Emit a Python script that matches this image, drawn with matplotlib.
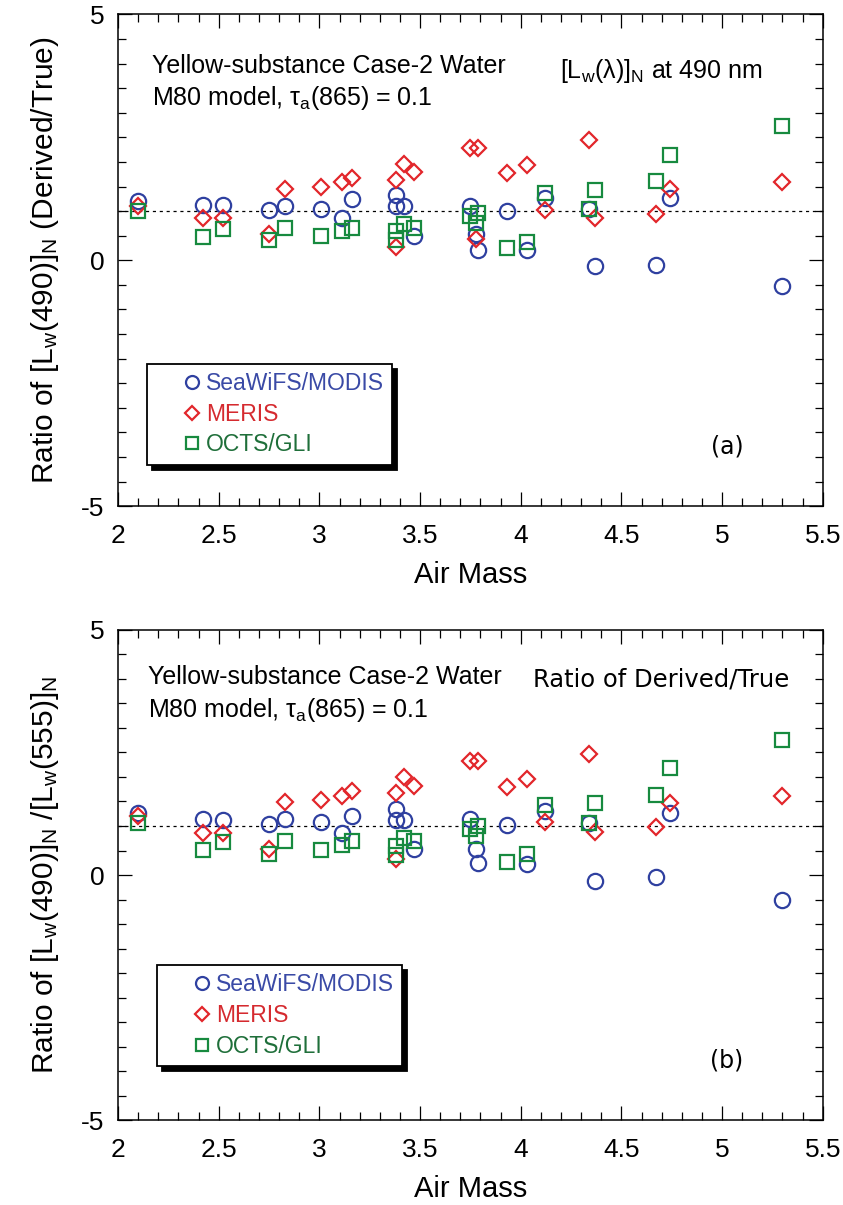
import numpy as np
import matplotlib
matplotlib.use('Agg')
import matplotlib.pyplot as plt
from matplotlib.ticker import MultipleLocator

plt.rcParams['font.family'] = ['Liberation Sans', 'DejaVu Sans']
plt.rcParams['mathtext.fontset'] = 'custom'
plt.rcParams['mathtext.rm'] = 'Liberation Sans'
plt.rcParams['mathtext.it'] = 'Liberation Sans:italic'
plt.rcParams['mathtext.default'] = 'regular'
plt.rcParams['axes.unicode_minus'] = False

# air mass for each simulated case (shared by both panels)
air_mass = [2.10, 2.42, 2.52, 2.75, 2.83, 3.01, 3.11, 3.16, 3.38, 3.38, 3.42, 3.47,
            3.75, 3.78, 3.79, 3.93, 4.03, 4.12, 4.34, 4.37, 4.67, 4.74, 5.30]

# panel (a): [Lw(490)]N derived/true
a_seawifs = [1.20, 1.13, 1.13, 1.03, 1.11, 1.05, 0.85, 1.24, 1.32, 1.10, 1.10, 0.50,
             1.11, 0.54, 0.20, 1.00, 0.20, 1.27, 1.05, -0.12, -0.09, 1.27, -0.53]
a_meris = [1.10, 0.85, 0.85, 0.54, 1.44, 1.49, 1.59, 1.68, 1.64, 0.27, 1.95, 1.79,
           2.29, 0.44, 2.29, 1.77, 1.94, 1.03, 2.44, 0.85, 0.94, 1.44, 1.59]
a_octs = [1.00, 0.48, 0.64, 0.41, 0.66, 0.50, 0.60, 0.66, 0.59, 0.42, 0.73, 0.66,
          0.91, 0.76, 0.96, 0.25, 0.37, 1.37, 1.05, 1.43, 1.61, 2.15, 2.73]

# panel (b): [Lw(490)]N/[Lw(555)]N derived/true
b_seawifs = [1.27, 1.15, 1.13, 1.05, 1.15, 1.08, 0.85, 1.21, 1.34, 1.12, 1.13, 0.54,
             1.15, 0.54, 0.24, 1.03, 0.22, 1.30, 1.07, -0.12, -0.04, 1.27, -0.52]
b_meris = [1.21, 0.86, 0.85, 0.54, 1.48, 1.53, 1.62, 1.71, 1.68, 0.33, 2.00, 1.81,
           2.32, np.nan, 2.32, 1.79, 1.96, 1.09, 2.46, 0.88, 0.98, 1.46, 1.61]
b_octs = [1.07, 0.52, 0.67, 0.42, 0.69, 0.52, 0.62, 0.69, 0.60, 0.40, 0.76, 0.69,
          0.93, 0.79, 1.01, 0.27, 0.42, 1.42, 1.07, 1.47, 1.63, 2.18, 2.76]

sensors = ['SeaWiFS/MODIS', 'MERIS', 'OCTS/GLI']
markers = ['o', 'D', 's']
msizes = [11, 8.3, 10.3]
colors = ['#2f40a0', '#e2262b', '#178a3f']
text_colors = ['#3a4aa6', '#d52a2f', '#1f6f3a']

fig = plt.figure(figsize=(8.43, 12.05), dpi=100)
ax1 = fig.add_axes([0.140, 0.580, 0.836, 0.408])
ax2 = fig.add_axes([0.140, 0.0705, 0.836, 0.4067])

panels = [
    (ax1, [a_seawifs, a_meris, a_octs],
     'Ratio of [L$_w$(490)]$_N$ (Derived/True)', '(a)', (0.041, 0.289)),
    (ax2, [b_seawifs, b_meris, b_octs],
     'Ratio of [L$_w$(490)]$_N$ /[L$_w$(555)]$_N$', '(b)', (0.055, 0.316)),
]

for ax, series, ylab, tag, leg_xy in panels:
    ax.axhline(1.0, color='black', lw=0.9, ls=(0, (2.5, 3)), zorder=1)
    handles = []
    for vals, m, ms, c, name in zip(series, markers, msizes, colors, sensors):
        h, = ax.plot(air_mass, vals, ls='none', marker=m, ms=ms, mfc='none',
                     mec=c, mew=1.6, label=name, zorder=3)
        handles.append(h)

    ax.set_xlim(2, 5.5)
    ax.set_ylim(-5, 5)
    ax.xaxis.set_minor_locator(MultipleLocator(0.1))
    ax.yaxis.set_major_locator(MultipleLocator(5))
    ax.yaxis.set_minor_locator(MultipleLocator(0.5))
    ax.set_xticks([2, 2.5, 3, 3.5, 4, 4.5, 5, 5.5])
    ax.set_xticklabels(['2', '2.5', '3', '3.5', '4', '4.5', '5', '5.5'])
    ax.tick_params(which='both', direction='in', top=True, right=True,
                   labelsize=19, width=0.9)
    ax.tick_params(axis='x', which='major', pad=13)
    ax.tick_params(axis='y', which='major', pad=10)
    ax.tick_params(which='major', length=10)
    ax.tick_params(which='minor', length=6)
    for s in ax.spines.values():
        s.set_linewidth(1.1)

    ax.set_xlabel('Air Mass', fontsize=21, labelpad=9)
    ax.set_ylabel(ylab, fontsize=21.5, labelpad=14)

    leg = ax.legend(handles=handles, loc='upper left', bbox_to_anchor=leg_xy,
                    fontsize=16.5, frameon=True, fancybox=False,
                    shadow={'color': 'black', 'alpha': 1.0, 'ox': 3.5, 'oy': -3.5},
                    borderpad=0.36, handletextpad=-0.98, labelspacing=0.33,
                    borderaxespad=0, handlelength=3.2)
    leg.get_frame().set_edgecolor('black')
    leg.get_frame().set_linewidth(1.3)
    for txt, tc in zip(leg.get_texts(), text_colors):
        txt.set_color(tc)
    for lh in leg.legend_handles:
        lh.set_markersize(lh.get_markersize() * 0.85)

    ax.text(0.864, 0.121, tag, transform=ax.transAxes,
            fontsize=17, family='DejaVu Sans', ha='center', va='center')

# panel annotations
ax1.text(0.048, 0.896, 'Yellow-substance Case-2 Water', transform=ax1.transAxes,
         fontsize=18, va='center')
ax1.text(0.048, 0.831, r'M80 model, $\tau_a$(865) = 0.1', transform=ax1.transAxes,
         fontsize=18, va='center')
ax1.text(0.627, 0.885, r'[L$_w$($\lambda$)]$_N$ at 490 nm', transform=ax1.transAxes,
         fontsize=18, va='center')

ax2.text(0.043, 0.904, 'Yellow-substance Case-2 Water', transform=ax2.transAxes,
         fontsize=18, va='center')
ax2.text(0.043, 0.836, r'M80 model, $\tau_a$(865) = 0.1', transform=ax2.transAxes,
         fontsize=18, va='center')
ax2.text(0.589, 0.898, 'Ratio of Derived/True', transform=ax2.transAxes,
         fontsize=17.5, family='DejaVu Sans', va='center')

fig.savefig('out.png', dpi=100)
